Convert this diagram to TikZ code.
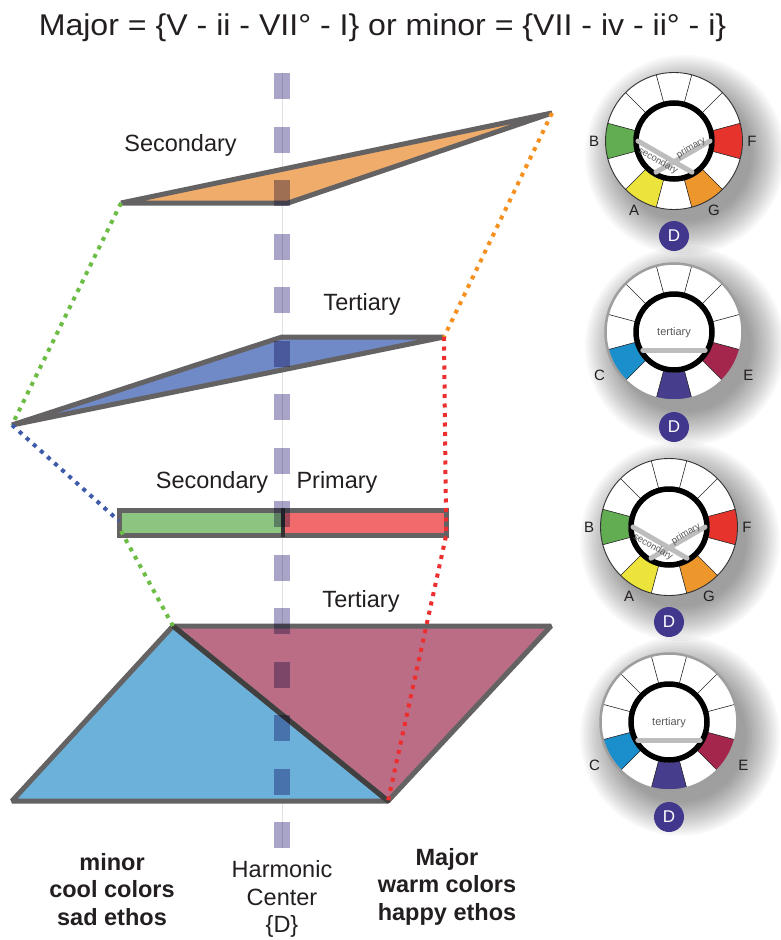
\documentclass[tikz,border=0pt]{standalone}
\usepackage{fontspec}
\setmainfont{Liberation Sans}
\usepackage{graphicx}
\usetikzlibrary{calc}
\definecolor{textdark}{HTML}{231F20}
\definecolor{bordergray}{HTML}{646262}
\definecolor{lavender}{HTML}{A9A5C9}
\definecolor{orangefill}{HTML}{F0AC6A}
\definecolor{bluefill}{HTML}{7089C7}
\definecolor{bargreen}{HTML}{8CC57F}
\definecolor{barred}{HTML}{F26B6C}
\definecolor{lowblue}{HTML}{6CB1DA}
\definecolor{lowpink}{HTML}{BC6D86}
\definecolor{dotgreen}{HTML}{6CBD45}
\definecolor{dotblue}{HTML}{3D5BA9}
\definecolor{dotorange}{HTML}{F7901E}
\definecolor{dotred}{HTML}{EC2E2E}
\definecolor{cB}{HTML}{62AC52}
\definecolor{cF}{HTML}{E6332C}
\definecolor{cA}{HTML}{EDE43B}
\definecolor{cG}{HTML}{EC962C}
\definecolor{cC}{HTML}{1B8FCB}
\definecolor{cE}{HTML}{A5264C}
\definecolor{cDseg}{HTML}{463D8C}
\definecolor{cDcirc}{HTML}{41388D}
\definecolor{chordgray}{HTML}{BDBDBD}

\newcommand\wheelseg[2]{%
  \fill[#2] ({#1-15}:40.5) -- ({#1-15}:68.5) arc[start angle={#1-15}, end angle={#1+15}, radius=68.5]
    -- ({#1+15}:40.5) arc[start angle={#1+15}, end angle={#1-15}, radius=40.5] -- cycle;}

\newcommand\wheelshadow[2]{%
  \begin{scope}[shift={(#1,#2)}]
    \foreach \k in {0,...,17}{\fill[black,opacity=0.022] (11,14) circle[radius={100-2*\k}];}
  \end{scope}}

\newcommand\wheelA[3]{%
  \begin{scope}[shift={(#1,#2)}]
    \fill[white] (0,0) circle[radius=68.5];
    \wheelseg{180}{cB}\wheelseg{0}{cF}\wheelseg{120}{cA}\wheelseg{60}{cG}
    \foreach \a in {15,45,...,345}{\draw[divider] (\a:40.5) -- (\a:68.5);}
    \draw[line width=0.9pt, black!80] (0,0) circle[radius=68.5];
    \draw[line width=5.5pt] (0,0) circle[radius=38];
    \draw[chord] (180:36) -- (60:36);
    \draw[chord] (120:36) -- (0:36);
    \node[tinytxt, rotate=-30] (#3-sec) at (-16,20) {secondary};
    \node[tinytxt, rotate=30] (#3-pri) at (17,7) {primary};
    \node[wlabel] (#3-B) at (180:80) {B};
    \node[wlabel] (#3-F) at (0:78) {F};
    \node[wlabel] (#3-A) at (120:80) {A};
    \node[wlabel] (#3-G) at (60:80) {G};
    \node[dnode] (#3-D) at (0,95) {D};
  \end{scope}}

\newcommand\wheelB[3]{%
  \begin{scope}[shift={(#1,#2)}]
    \fill[white] (0,0) circle[radius=68.5];
    \wheelseg{150}{cC}\wheelseg{30}{cE}\wheelseg{90}{cDseg}
    \foreach \a in {15,45,...,345}{\draw[divider] (\a:40.5) -- (\a:68.5);}
    \draw[line width=2.5pt, black!38] (0,0) circle[radius=68.5];
    \draw[line width=5.5pt] (0,0) circle[radius=38];
    \draw[chord] (150:36) -- (30:36);
    \node[tinytxt, font=\fontsize{11}{13}\selectfont] (#3-ter) at (0,1) {tertiary};
    \node[wlabel] (#3-C) at (150:86) {C};
    \node[wlabel] (#3-E) at (30:86) {E};
    \node[dnode] (#3-D) at (0,95) {D};
  \end{scope}}

\begin{document}
\begin{tikzpicture}[x=1pt,y=-1pt,
  tri/.style={draw=bordergray, line width=5pt, line join=bevel},
  dotline/.style={line width=4pt, dash pattern=on 4pt off 5.5pt},
  lbl/.style={font=\fontsize{23.5}{27.5}\selectfont, text=textdark, inner sep=0pt},
  boldlbl/.style={lbl, align=center, font=\fontsize{23.5}{27.5}\selectfont\bfseries},
  wlabel/.style={font=\fontsize{15}{18}\selectfont, text=textdark, inner sep=0pt},
  tinytxt/.style={font=\fontsize{9.5}{11}\selectfont, text=black!65, inner sep=0pt},
  chord/.style={line width=5pt, draw=chordgray, line cap=round},
  divider/.style={line width=0.6pt, black!85},
  dnode/.style={circle, fill=cDcirc, text=white, minimum size=30pt, inner sep=0pt, font=\fontsize{17}{20}\selectfont}
]
\useasboundingbox (0,0) rectangle (781,940);
\fill[white] (0,0) rectangle (781,940);

% title
\node[anchor=base, font=\fontsize{30}{36}\selectfont, text=textdark, inner sep=0pt] (title) at (382.5,35)
  {\scalebox{1.07}[1]{Major = \{V - ii - VII° - I\} or minor = \{VII - iv - ii° - i\}}};

% key points
\coordinate (O1) at (121,203);
\coordinate (O2) at (288,203);
\coordinate (O3) at (552,113);
\coordinate (T1) at (12,425);
\coordinate (T2) at (282,337);
\coordinate (T3) at (444,337);
\coordinate (barL) at (119,521);
\coordinate (barLb) at (121,531);
\coordinate (barR) at (446,522);
\coordinate (barRb) at (446,536);
\coordinate (B1) at (12,801);
\coordinate (B2) at (173,626);
\coordinate (B3) at (388,801);
\coordinate (P2) at (551,626);

% thin center line
\draw[line width=0.6pt, black!12] (282,73) -- (282,848);

% shapes
\draw[tri, fill=orangefill] (O1) -- (O2) -- (O3) -- cycle;
\draw[tri, fill=bluefill] (T1) -- (T2) -- (T3) -- cycle;
\fill[bargreen] (119,510) rectangle (283,535);
\fill[barred] (283,510) rectangle (446,535);
\draw[line width=5pt, draw=bordergray] (119,510) rectangle (446,535);
\draw[line width=4pt, black!80] (283,508) -- (283,537);
\draw[tri, fill=lowpink] (B2) -- (P2) -- (B3) -- cycle;
\draw[tri, fill=lowblue] (B1) -- (B2) -- (B3) -- cycle;
\draw[line width=5pt, draw=black!75, line cap=round] (B2) -- (B3);

% harmonic center dashed line
\draw[line width=16pt, draw=lavender, dash pattern=on 26pt off 27.5pt, blend mode=multiply] (282,73) -- (282,848);

% dotted connectors
\draw[dotline, draw=dotgreen] (O1) -- (T1);
\draw[dotline, draw=dotblue] (T1) -- (barL);
\draw[dotline, draw=dotgreen] (barLb) -- (B2);
\draw[dotline, draw=dotorange] (O3) -- (T3);
\draw[dotline, draw=dotred] (T3) -- (barR) -- (barRb) -- (B3);

% labels
\node[lbl] (lsec1) at (180.5,145) {Secondary};
\node[lbl] (lter1) at (362,304) {Tertiary};
\node[lbl] (lsec2) at (212,482) {Secondary};
\node[lbl] (lpri) at (337,482) {Primary};
\node[lbl] (lter2) at (361,601) {Tertiary};

\node[boldlbl] (minor) at (112,889.5) {minor\\cool colors\\sad ethos};
\node[lbl, align=center] (center) at (282,899) {Harmonic\\Center\\\{D\}};
\node[boldlbl] (major) at (447,886.5) {Major\\warm colors\\happy ethos};

% colour wheels
\wheelshadow{674}{141}
\wheelshadow{674}{332}
\wheelshadow{669}{527}
\wheelshadow{669}{722}
\wheelA{674}{141}{w1}
\wheelB{674}{332}{w2}
\wheelA{669}{527}{w3}
\wheelB{669}{722}{w4}
\end{tikzpicture}
\end{document}
